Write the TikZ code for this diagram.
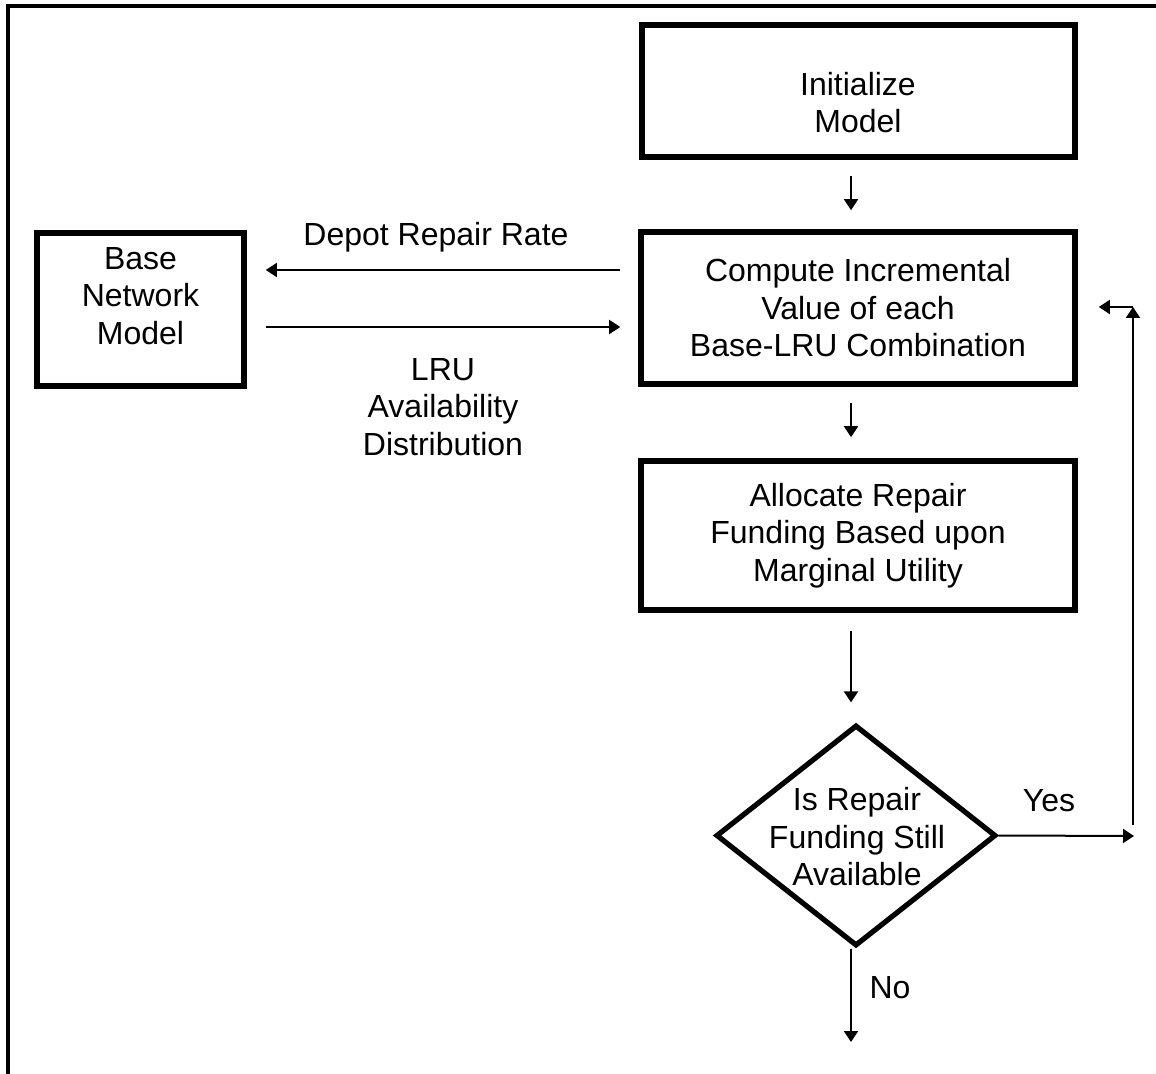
\documentclass[tikz,border=0pt]{standalone}
\usepackage{fontspec}
\setmainfont{Liberation Sans}
\usetikzlibrary{shapes.geometric,arrows.meta,calc}
\begin{document}
\begin{tikzpicture}[x=0.5pt,y=-0.5pt,
  box/.style={draw, line width=2.8pt, rectangle, inner sep=0pt},
  dia/.style={draw, line width=2.6pt, diamond, inner sep=0pt, minimum width=140pt, minimum height=110.5pt},
  txt/.style={align=center, font=\fontsize{16}{18.75}\selectfont, inner sep=0pt},
  arr/.style={line width=1pt, -{Triangle[length=5.5pt,width=7pt]}},
  frameline/.style={line width=1.6pt}]
\useasboundingbox (0,0) rectangle (1156,1074);
% outer frame (only top and left visible)
\draw[frameline] (8,1074) -- (8,6) -- (1156,6);
% boxes
\node[box, minimum width=216.5pt, minimum height=66pt] (init) at (858.5,91) {};
\node[txt] (inittxt) at (858,102.5) {Initialize\\Model};
\node[box, minimum width=217pt, minimum height=76pt] (comp) at (858,308) {};
\node[txt] (comptxt) at (858,308) {Compute Incremental\\Value of each\\Base-LRU Combination};
\node[box, minimum width=217pt, minimum height=74.5pt] (alloc) at (858,535.5) {};
\node[txt] (alloctxt) at (858,535.5) {Allocate Repair\\Funding Based upon\\Marginal Utility};
\node[box, minimum width=103.5pt, minimum height=76.5pt] (base) at (140.5,309.5) {};
\node[txt] (basetxt) at (140.5,296) {Base\\Network\\Model};
\node[dia] (dec) at (856,835.5) {};
\node[txt] (dectxt) at (857,837) {Is Repair\\Funding Still\\Available};
% labels
\node[txt] (depot) at (436,237) {Depot Repair Rate};
\node[txt] (lru) at (443,407) {LRU\\Availability\\Distribution};
\node[txt] (yes) at (1049,801) {Yes};
\node[txt] (no) at (890,988) {No};
% coordinates
\coordinate (vx) at (851,0);
\coordinate (noend) at (851,1042);
\coordinate (yesend) at (1134,836);
\coordinate (loopbot) at (1133,825);
\coordinate (looptop) at (1133,307);
% vertical flow
\draw[arr, shorten <=8pt, shorten >=9.5pt] (init.south -| vx) -- (comp.north -| vx);
\draw[arr, shorten <=8pt, shorten >=10.5pt] (comp.south -| vx) -- (alloc.north -| vx);
\draw[arr, shorten <=9pt, shorten >=10pt] (alloc.south -| vx) -- (dec.north -| vx);
\draw[arr] (dec.south -| vx) -- (noend);
% yes loop
\draw[arr] (dec.east) -- (yesend);
\draw[arr] (loopbot) -- (looptop);
\draw[arr, shorten >=10.5pt] (looptop) -- (looptop -| comp.east);
% side arrows
\draw[arr, shorten <=9pt, shorten >=9.5pt] ([yshift=19pt]comp.west) -- ([yshift=19pt]comp.west -| base.east);
\draw[arr, shorten <=9.5pt, shorten >=9pt] ([yshift=-9.5pt]comp.west -| base.east) -- ([yshift=-9.5pt]comp.west);
\end{tikzpicture}
\end{document}
